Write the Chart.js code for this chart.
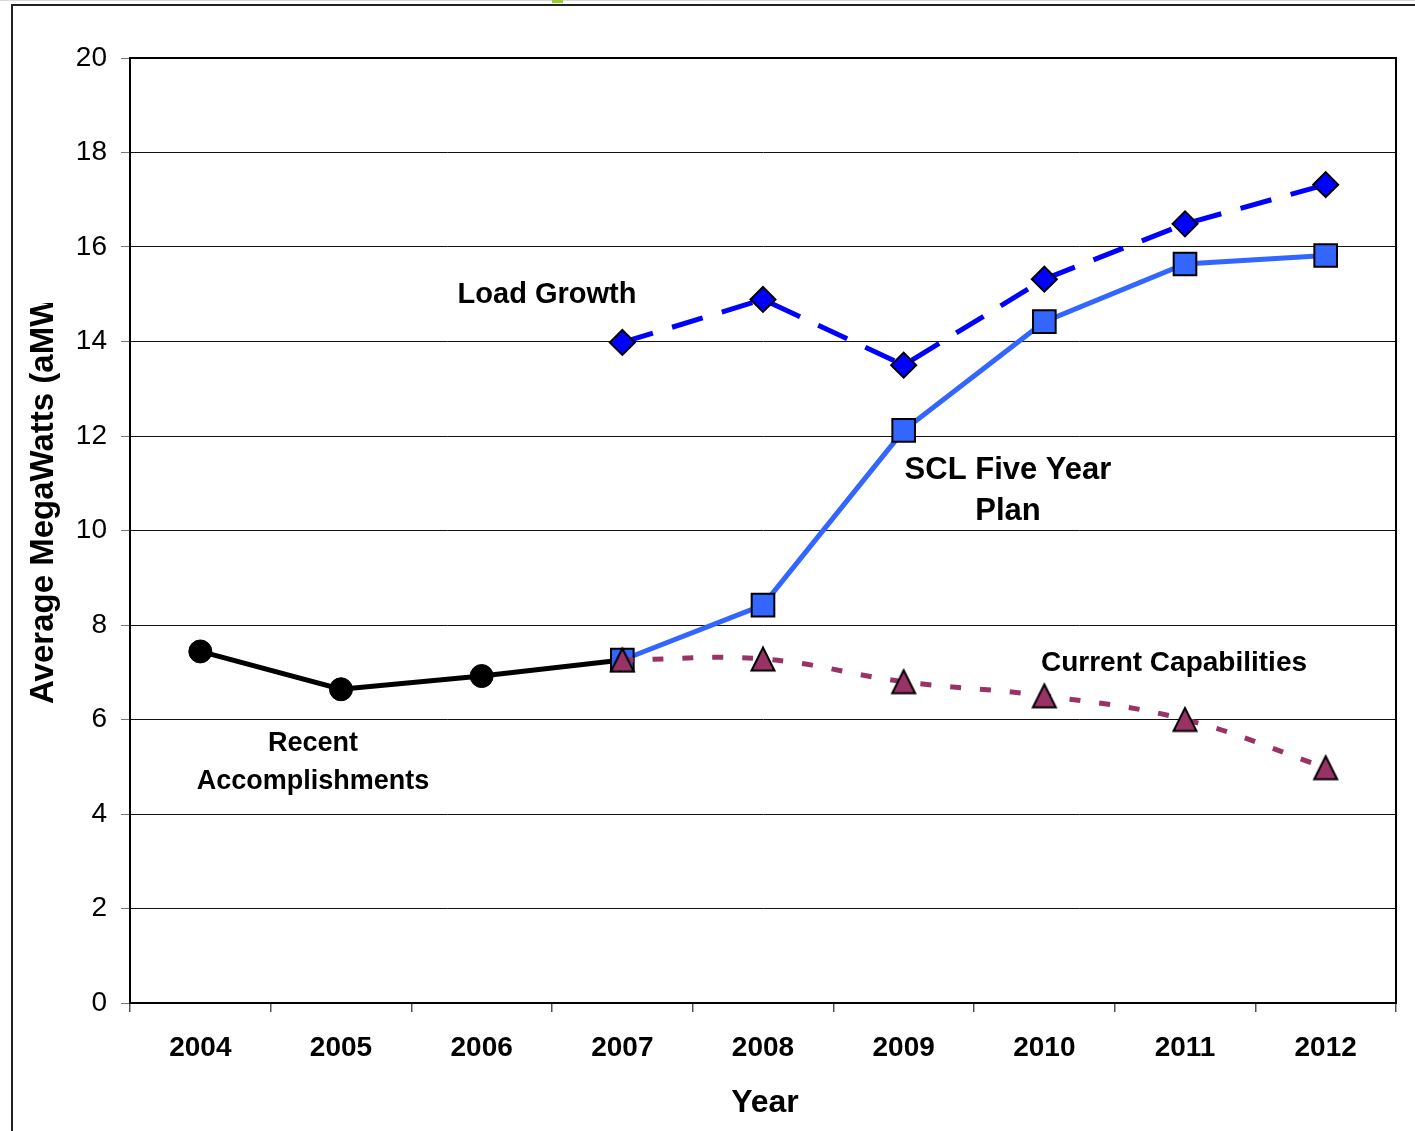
<!DOCTYPE html>
<html><head><meta charset="utf-8">
<script src="https://cdn.jsdelivr.net/npm/chart.js@4.4.1/dist/chart.umd.min.js"></script>
<style>html,body{margin:0;padding:0;background:#fff;overflow:hidden}#wrap{width:1415px;height:1131px;position:relative}canvas{display:block}</style>
</head><body><div id="wrap"><canvas id="c" width="1415" height="1131"></canvas></div>
<script>
// ---- data ----
const years = ['2004','2005','2006','2007','2008','2009','2010','2011','2012'];
const recentAccomplishments = [7.44, 6.64, 6.92, 7.26, null, null, null, null, null];
const sclFiveYearPlan      = [null, null, null, 7.26, 8.42, 12.12, 14.42, 15.64, 15.82];
const loadGrowth           = [null, null, null, 13.98, 14.89, 13.50, 15.32, 16.49, 17.32];
const currentCapabilities  = [null, null, null, 7.26, 7.28, 6.80, 6.50, 6.00, 4.98];
const yAxisMin = 0, yAxisMax = 20, yAxisStep = 2;
const yAxisTitle = 'Average MegaWatts (aMW)';
const xAxisTitle = 'Year';

const FONT = "'Liberation Sans', Arial, Helvetica, sans-serif";
Chart.defaults.font.family = FONT;

// triangle marker as image
function triangleMarker(fill) {
  const c = document.createElement('canvas');
  c.width = 28; c.height = 28;
  const g = c.getContext('2d');
  g.beginPath();
  g.moveTo(14, 2.5); g.lineTo(25.5, 25.5); g.lineTo(2.5, 25.5); g.closePath();
  g.fillStyle = fill; g.fill();
  g.lineWidth = 2; g.lineJoin = 'miter'; g.strokeStyle = '#000'; g.stroke();
  return c;
}

const labels = [
  { lines: ['Load Growth'], x: 547, y: 303, size: 29 },
  { lines: ['SCL Five Year', 'Plan'], x: 1008, y: 479, size: 31, gap: 40.5 },
  { lines: ['Current Capabilities'], x: 1174, y: 671, size: 28 },
  { lines: ['Recent', 'Accomplishments'], x: 313, y: 751, size: 27, gap: 38 }
];

const decor = {
  id: 'decor',
  beforeDraw(chart) {
    const ctx = chart.ctx;
    ctx.save();
    ctx.fillStyle = '#fff';
    ctx.fillRect(0, 0, chart.width, chart.height);
    ctx.strokeStyle = '#d8d8d8'; ctx.lineWidth = 1;
    ctx.beginPath(); ctx.moveTo(0, 0.5); ctx.lineTo(chart.width, 0.5); ctx.stroke();
    ctx.fillStyle = '#9acd32';
    ctx.fillRect(552, 0, 11, 3);
    ctx.strokeStyle = '#222'; ctx.lineWidth = 2;
    ctx.beginPath(); ctx.moveTo(chart.width, 5); ctx.lineTo(12, 5); ctx.lineTo(12, chart.height); ctx.stroke();
    ctx.restore();
  },
  afterDraw(chart) {
    const ctx = chart.ctx, a = chart.chartArea;
    ctx.save();
    ctx.strokeStyle = '#000'; ctx.lineWidth = 2;
    ctx.strokeRect(a.left, a.top, a.right - a.left, a.bottom - a.top);
    ctx.fillStyle = '#000';
    ctx.textAlign = 'center'; ctx.textBaseline = 'alphabetic';
    labels.forEach(l => {
      ctx.font = 'bold ' + l.size + 'px ' + FONT;
      l.lines.forEach((t, i) => ctx.fillText(t, l.x, l.y + i * (l.gap || 0)));
    });
    ctx.font = 'bold 32px ' + FONT;
    ctx.fillText(xAxisTitle, 765, 1112);
    // y axis title (clipped at top as in the source)
    ctx.save();
    ctx.beginPath(); ctx.rect(0, 303, 125, 828); ctx.clip();
    ctx.translate(53, 704);
    ctx.rotate(-Math.PI / 2);
    ctx.textAlign = 'left';
    ctx.font = 'bold 33px ' + FONT;
    ctx.fillText(yAxisTitle, 0, 0);
    ctx.restore();
    ctx.restore();
  }
};

new Chart(document.getElementById('c'), {
  type: 'line',
  data: {
    labels: years,
    datasets: [
      {
        label: 'Current Capabilities', data: currentCapabilities,
        borderColor: '#993366', borderWidth: 5, borderDash: [11, 19], borderCapStyle: 'butt',
        tension: 0.4, pointStyle: triangleMarker('#993366'), pointRadius: 14,
        backgroundColor: '#993366', fill: false
      },
      {
        label: 'SCL Five Year Plan', data: sclFiveYearPlan,
        borderColor: '#3366FF', borderWidth: 5, tension: 0,
        pointStyle: 'rect', pointRadius: 16, pointBackgroundColor: '#3366FF',
        pointBorderColor: '#000', pointBorderWidth: 2, fill: false
      },
      {
        label: 'Load Growth', data: loadGrowth,
        borderColor: '#0000FF', borderWidth: 5, borderDash: [32, 20], borderCapStyle: 'butt', tension: 0,
        pointStyle: 'rectRot', pointRadius: 12.5, pointBackgroundColor: '#0000FF',
        pointBorderColor: '#000', pointBorderWidth: 2, fill: false
      },
      {
        label: 'Recent Accomplishments', data: recentAccomplishments,
        borderColor: '#000', borderWidth: 5, tension: 0,
        pointStyle: 'circle', pointRadius: 11.5, pointBackgroundColor: '#000',
        pointBorderColor: '#000', pointBorderWidth: 1, fill: false
      }
    ]
  },
  options: {
    responsive: false, animation: false, devicePixelRatio: 1,
    layout: { padding: { top: 58, right: 18, left: 0, bottom: 0 } },
    plugins: { legend: { display: false }, tooltip: { enabled: false } },
    scales: {
      x: {
        type: 'category', offset: true,
        grid: { offset: true, drawOnChartArea: false, drawTicks: true, tickLength: 9, color: '#555', lineWidth: 1.5 },
        border: { display: true, color: '#000', width: 2 },
        ticks: { color: '#000', font: { size: 28, weight: 'bold' }, padding: 19, maxRotation: 0, autoSkip: false },
        afterFit(s) { s.height = 128; }
      },
      y: {
        min: yAxisMin, max: yAxisMax,
        grid: { color: '#111', lineWidth: 1, tickLength: 9, tickColor: '#777' },
        border: { display: true, color: '#000', width: 2 },
        ticks: { stepSize: yAxisStep, color: '#000', font: { size: 28 }, padding: 14 },
        afterFit(s) { s.width = 130; }
      }
    }
  },
  plugins: [decor]
});
</script>
</body></html>
